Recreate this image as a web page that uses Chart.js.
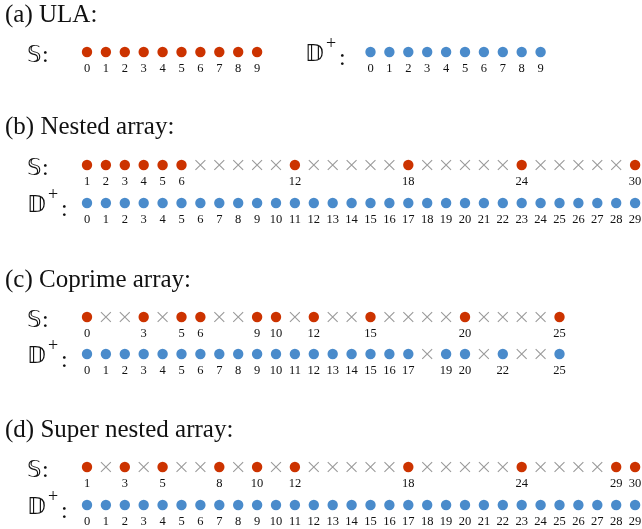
<!DOCTYPE html>
<html>
<head>
<meta charset="utf-8">
<script src="https://cdn.jsdelivr.net/npm/chart.js@4/dist/chart.umd.min.js"></script>
<style>
  html, body { margin: 0; padding: 0; background: #ffffff; }
  canvas { display: block; }
</style>
</head>
<body>
<canvas id="arrays" width="642" height="529"></canvas>
<script>
// Sensor positions (S), empty grid positions, and non-negative lags of the difference co-array (D+)
const ulaSensors = [0, 1, 2, 3, 4, 5, 6, 7, 8, 9];
const ulaLags = [0, 1, 2, 3, 4, 5, 6, 7, 8, 9];

const nestedSensors = [1, 2, 3, 4, 5, 6, 12, 18, 24, 30];
const nestedHoles = [7, 8, 9, 10, 11, 13, 14, 15, 16, 17, 19, 20, 21, 22, 23, 25, 26, 27, 28, 29];
const nestedLags = [0, 1, 2, 3, 4, 5, 6, 7, 8, 9, 10, 11, 12, 13, 14, 15, 16, 17, 18, 19, 20, 21, 22, 23, 24, 25, 26, 27, 28, 29];

const coprimeSensors = [0, 3, 5, 6, 9, 10, 12, 15, 20, 25];
const coprimeHoles = [1, 2, 4, 7, 8, 11, 13, 14, 16, 17, 18, 19, 21, 22, 23, 24];
const coprimeLags = [0, 1, 2, 3, 4, 5, 6, 7, 8, 9, 10, 11, 12, 13, 14, 15, 16, 17, 19, 20, 22, 25];
const coprimeLagHoles = [18, 21, 23, 24];

const superNestedSensors = [1, 3, 5, 8, 10, 12, 18, 24, 29, 30];
const superNestedHoles = [2, 4, 6, 7, 9, 11, 13, 14, 15, 16, 17, 19, 20, 21, 22, 23, 25, 26, 27, 28];
const superNestedLags = [0, 1, 2, 3, 4, 5, 6, 7, 8, 9, 10, 11, 12, 13, 14, 15, 16, 17, 18, 19, 20, 21, 22, 23, 24, 25, 26, 27, 28, 29];

const panelTitles = ['(a) ULA:', '(b) Nested array:', '(c) Coprime array:', '(d) Super nested array:'];

// Page geometry (pixels): title baselines and row centres per panel
const titleY = [22, 134, 287, 437];
const sRowY = [52, 165, 317, 467];
const dRowY = [52, 203, 354, 505];

const RED = '#cc3300';
const BLUE = '#4a8bcb';
const GREY = '#9a9a9a';

// Grid: slot 0 sits at x = 87 px, one slot every 18.9 px
const SLOT0 = 87, PITCH = 18.9, W = 642, H = 529;

function pts(values, shift, rowY) {
  return values.map(v => ({ x: v + shift, y: rowY, v: v }));
}
function dots(values, shift, rowY, color) {
  return {
    data: pts(values, shift, rowY),
    pointStyle: 'circle',
    pointRadius: 5.2,
    pointBorderWidth: 0,
    pointBackgroundColor: color,
    showLine: false,
    valueLabels: true
  };
}
function holes(values, shift, rowY) {
  return {
    data: pts(values, shift, rowY),
    pointStyle: 'crossRot',
    pointRadius: 7,
    pointBorderWidth: 1.1,
    pointBorderColor: GREY,
    pointBackgroundColor: GREY,
    showLine: false,
    valueLabels: false
  };
}

const datasets = [
  dots(ulaSensors, 0, sRowY[0], RED),
  dots(ulaLags, 15, dRowY[0], BLUE),

  holes(nestedHoles, -1, sRowY[1]),
  dots(nestedSensors, -1, sRowY[1], RED),
  dots(nestedLags, 0, dRowY[1], BLUE),

  holes(coprimeHoles, 0, sRowY[2]),
  dots(coprimeSensors, 0, sRowY[2], RED),
  holes(coprimeLagHoles, 0, dRowY[2]),
  dots(coprimeLags, 0, dRowY[2], BLUE),

  holes(superNestedHoles, -1, sRowY[3]),
  dots(superNestedSensors, -1, sRowY[3], RED),
  dots(superNestedLags, 0, dRowY[3], BLUE)
];

function drawSLabel(ctx, x, y) {
  ctx.font = '23px "DejaVu Sans"';
  ctx.fillText('\u{1D54A}', x, y + 10);
  ctx.font = '24px "Liberation Serif"';
  ctx.fillText(':', x + 15, y + 10);
}
function drawDLabel(ctx, x, y) {
  ctx.font = '23px "DejaVu Sans"';
  ctx.fillText('\u{1D53B}', x, y + 9);
  ctx.font = '18px "Liberation Serif"';
  ctx.fillText('+', x + 21, y - 3.5);
  ctx.font = '24px "Liberation Serif"';
  ctx.fillText(':', x + 34, y + 13);
}

const textPlugin = {
  id: 'arrayText',
  afterDatasetsDraw(chart) {
    const ctx = chart.ctx;
    ctx.save();
    ctx.fillStyle = '#111111';
    ctx.textBaseline = 'alphabetic';

    // numeric labels under every filled marker
    ctx.font = '12.5px "Liberation Serif"';
    ctx.textAlign = 'center';
    chart.data.datasets.forEach((ds, i) => {
      if (!ds.valueLabels) return;
      const meta = chart.getDatasetMeta(i);
      meta.data.forEach((el, j) => {
        ctx.fillText(String(ds.data[j].v), el.x, el.y + 19.5);
      });
    });

    // panel titles
    ctx.textAlign = 'left';
    ctx.font = '25px "Liberation Serif"';
    panelTitles.forEach((t, k) => ctx.fillText(t, 5, titleY[k]));

    // row names
    drawSLabel(ctx, 27, sRowY[0]);
    drawDLabel(ctx, 305, dRowY[0]);
    for (let k = 1; k < 4; k++) {
      drawSLabel(ctx, 27, sRowY[k]);
      drawDLabel(ctx, 27, dRowY[k]);
    }
    ctx.restore();
  }
};

new Chart(document.getElementById('arrays'), {
  type: 'scatter',
  data: { datasets },
  options: {
    responsive: false,
    animation: false,
    events: [],
    layout: { padding: 0, autoPadding: false },
    clip: false,
    plugins: { legend: { display: false }, tooltip: { enabled: false } },
    scales: {
      x: { type: 'linear', display: false, min: -SLOT0 / PITCH, max: (W - SLOT0) / PITCH },
      y: { type: 'linear', display: false, min: 0, max: H, reverse: true }
    }
  },
  plugins: [textPlugin]
});
</script>
</body>
</html>
